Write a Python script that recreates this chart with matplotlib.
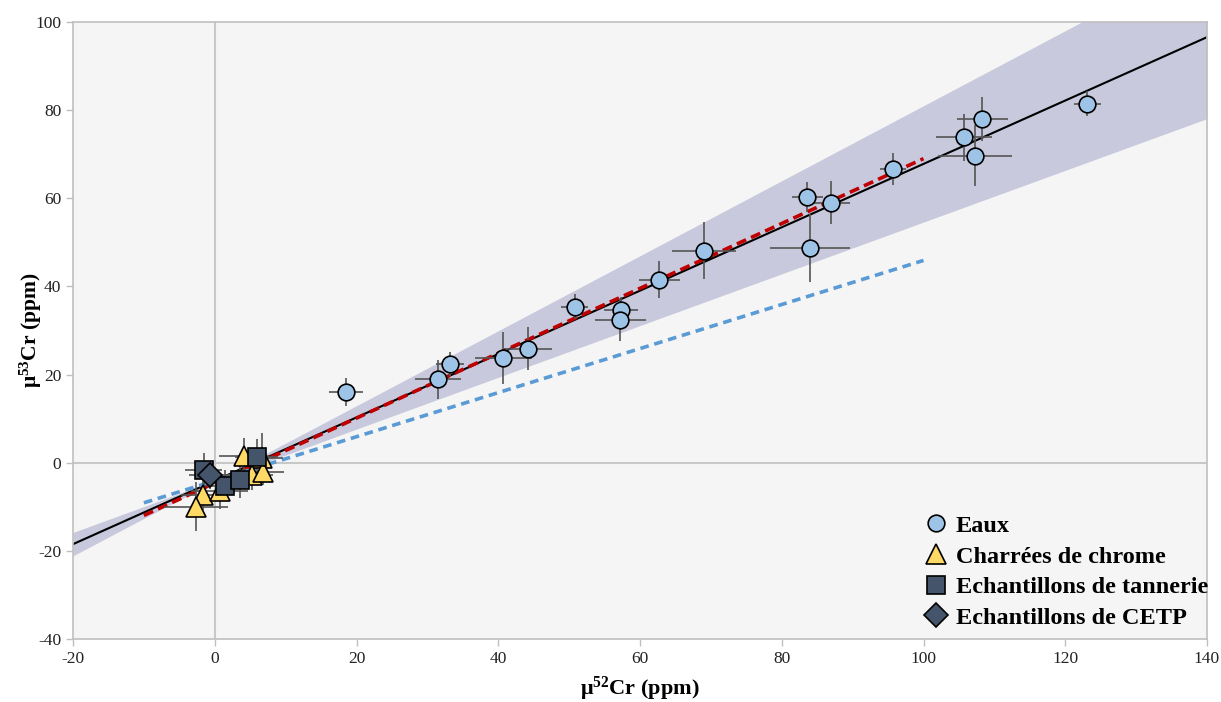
import matplotlib.pyplot as plt
import numpy as np

plt.rcParams["font.family"] = ["Liberation Serif", "DejaVu Serif"]
plt.rcParams["axes.unicode_minus"] = False
plt.rcParams["mathtext.fontset"] = "custom"
plt.rcParams["mathtext.rm"] = "Liberation Serif"
plt.rcParams["mathtext.bf"] = "Liberation Serif:bold"
plt.rcParams["mathtext.default"] = "regular"

# Eaux
eaux_x = [18.5, 31.5, 33.2, 40.7, 44.2, 50.8, 57.3, 57.2, 62.7, 69.0,
          83.6, 84.0, 86.9, 95.7, 105.7, 107.3, 108.3, 123.1]
eaux_y = [16.1, 18.9, 22.4, 23.8, 25.9, 35.4, 34.7, 32.4, 41.5, 48.1,
          60.3, 48.8, 59.0, 66.7, 73.8, 69.7, 78.0, 81.5]
eaux_xerr = [2.4, 3.3, 2.0, 4.0, 3.4, 1.9, 2.4, 3.6, 2.9, 4.5,
             2.2, 5.7, 2.8, 1.9, 3.9, 5.2, 3.6, 1.9]
eaux_yerr = [3.2, 4.5, 2.8, 5.9, 4.9, 2.8, 3.0, 4.8, 4.2, 6.5,
             3.3, 7.7, 4.9, 3.6, 5.3, 7.0, 4.9, 2.8]

# Charrées de chrome
chrome_x = [4.1, 6.7, 5.2, 6.8, -1.7, 0.7, -2.7]
chrome_y = [1.6, 1.1, -2.7, -2.0, -7.3, -6.5, -10.0]
chrome_xerr = [3.5, 3.0, 3.0, 3.0, 3.0, 4.0, 4.5]
chrome_yerr = [4.0, 5.7, 3.5, 3.0, 3.5, 4.0, 5.6]

# Echantillons de tannerie
tann_x = [-1.55, 1.4, 3.6, 5.9]
tann_y = [-1.6, -5.2, -3.9, 1.4]
tann_xerr = [2.6, 2.5, 3.0, 3.0]
tann_yerr = [3.8, 3.5, 4.0, 4.0]

# Echantillons de CETP
cetp_x = [-0.6]
cetp_y = [-2.9]
cetp_xerr = [3.0]
cetp_yerr = [3.0]

# fits
fit_slope, fit_icpt = 0.719, -4.1
red_slope, red_icpt = 0.736, -4.6
blue_slope, blue_icpt = 0.50, -4.1
band_slope_err, band_w0 = 0.132, 0.3

fig = plt.figure(figsize=(12.21, 7.02), dpi=100)
ax = fig.add_axes([73 / 1221, 1 - 639 / 702, (1207 - 73) / 1221, (639 - 22) / 702])
ax.set_facecolor("#f5f5f5")

ax.axhline(0, color="#c8c8c8", lw=1.5, zorder=0)
ax.axvline(0, color="#c8c8c8", lw=1.5, zorder=0)

xs = np.linspace(-20, 140, 400)
yfit = fit_icpt + fit_slope * xs
w = np.sqrt(band_w0 ** 2 + (band_slope_err * xs) ** 2)
ax.fill_between(xs, yfit - w, yfit + w, color="#c9c9dd", lw=0, zorder=1)
ax.plot(xs, yfit, color="black", lw=1.5, zorder=2)

xl = np.array([-10, 100])
ax.plot(xl, red_icpt + red_slope * xl, color="#c00000", lw=2.6, dashes=(2.8, 1.5), zorder=2)
ax.plot(xl, blue_icpt + blue_slope * xl, color="#5b9bd5", lw=2.6, dashes=(2.4, 1.6), zorder=2)

ebkw = dict(fmt="none", ecolor="#555555", elinewidth=1.2, capsize=0, zorder=3)
ax.errorbar(eaux_x, eaux_y, xerr=eaux_xerr, yerr=eaux_yerr, **ebkw)
ax.errorbar(chrome_x, chrome_y, xerr=chrome_xerr, yerr=chrome_yerr, **ebkw)
ax.errorbar(tann_x, tann_y, xerr=tann_xerr, yerr=tann_yerr, **ebkw)
ax.errorbar(cetp_x, cetp_y, xerr=cetp_xerr, yerr=cetp_yerr, **ebkw)

mkw = dict(ls="none", mec="black", mew=1.2, zorder=4)
ax.plot(eaux_x, eaux_y, marker="o", ms=12, mfc="#9dc3e6", label="Eaux", **mkw)
ax.plot(chrome_x, chrome_y, marker="^", ms=15, mfc="#ffd966", label="Charrées de chrome", **mkw)
ax.plot(tann_x, tann_y, marker="s", ms=13, mfc="#44546a", label="Echantillons de tannerie", **mkw)
ax.plot(cetp_x, cetp_y, marker="D", ms=12, mfc="#44546a", label="Echantillons de CETP", **mkw)

ax.set_xlim(-20, 140)
ax.set_ylim(-40, 100)
ax.set_xticks(np.arange(-20, 141, 20))
ax.set_yticks(np.arange(-40, 101, 20))
for s in ax.spines.values():
    s.set_color("#bfbfbf")
    s.set_linewidth(1.2)
ax.tick_params(colors="#bfbfbf", labelcolor="#222222", labelsize=12.5, length=5, width=1)

ax.set_xlabel(r"μ$\mathbf{^{52}}$Cr (ppm)", fontsize=16, fontweight="bold")
ax.set_ylabel(r"μ$\mathbf{^{53}}$Cr (ppm)", fontsize=15.5, fontweight="bold")
ax.xaxis.set_label_coords(0.5, -0.058)
ax.yaxis.set_label_coords(-0.026, 0.5)

leg = ax.legend(loc="lower right", bbox_to_anchor=(1.018, -0.0146), frameon=False,
                handletextpad=0.3, labelspacing=0.35, borderaxespad=0.4, handlelength=1.0,
                prop={"weight": "bold", "size": 17.5})
leg.set_zorder(5)

fig.savefig("out.png", dpi=100)
